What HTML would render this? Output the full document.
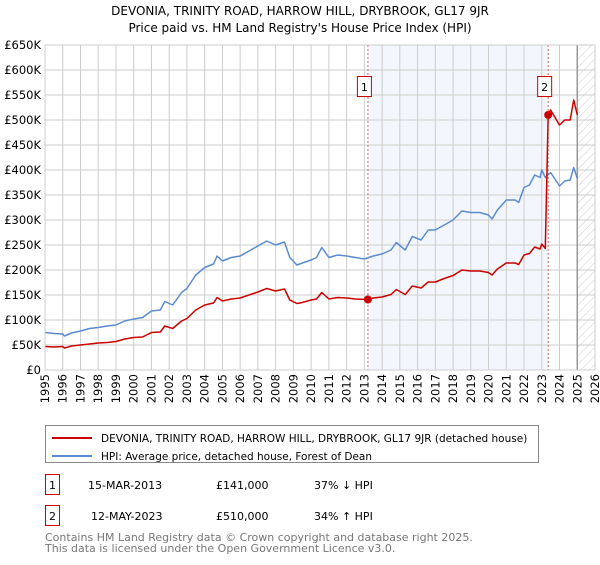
<!DOCTYPE html>
<html><head><meta charset="utf-8"><style>
body{margin:0;background:#fff;font-family:"Liberation Sans","DejaVu Sans",sans-serif;}
svg text{font-family:"DejaVu Sans","Liberation Sans",sans-serif;}
</style></head><body>
<svg id="chart" width="600" height="560" viewBox="0 0 600 560" xmlns="http://www.w3.org/2000/svg">
<text x="300" y="15" text-anchor="middle" font-size="12">DEVONIA, TRINITY ROAD, HARROW HILL, DRYBROOK, GL17 9JR</text>
<text x="300" y="32" text-anchor="middle" font-size="12">Price paid vs. HM Land Registry's House Price Index (HPI)</text>
<defs><pattern id="hatch" width="6" height="6" patternUnits="userSpaceOnUse" patternTransform="rotate(45)"><line x1="0" y1="0" x2="0" y2="6" stroke="#ccc" stroke-width="1"/></pattern></defs>
<g id="plot"></g>
<g>
<rect x="45.5" y="425.5" width="493" height="37" fill="#fff" stroke="#888"/>
<line x1="52" y1="438" x2="92" y2="438" stroke="#cc0000" stroke-width="2"/>
<text x="101" y="442" font-size="10.5">DEVONIA, TRINITY ROAD, HARROW HILL, DRYBROOK, GL17 9JR (detached house)</text>
<line x1="52" y1="456" x2="92" y2="456" stroke="#5b8bd0" stroke-width="2"/>
<text x="101" y="460" font-size="10.5">HPI: Average price, detached house, Forest of Dean</text>
</g>
<g>
<rect x="45.5" y="474.5" width="14" height="20" fill="#fff" stroke="#cc0000"/>
<text x="52.5" y="489" font-size="11" text-anchor="middle">1</text>
<text x="88" y="489" font-size="11">15-MAR-2013</text>
<text x="216" y="489" font-size="11">£141,000</text>
<text x="314" y="489" font-size="11">37% ↓ HPI</text>
<rect x="45.5" y="505.5" width="14" height="20" fill="#fff" stroke="#cc0000"/>
<text x="52.5" y="520" font-size="11" text-anchor="middle">2</text>
<text x="91" y="520" font-size="11">12-MAY-2023</text>
<text x="216" y="520" font-size="11">£510,000</text>
<text x="314" y="520" font-size="11">34% ↑ HPI</text>
</g>
<text x="45" y="541" font-size="11" fill="#777">Contains HM Land Registry data © Crown copyright and database right 2025.</text>
<text x="45" y="552" font-size="11" fill="#777">This data is licensed under the Open Government Licence v3.0.</text>
</svg>
<script>
const hpiYears=[1995,1995.5,1996,1996.1,1996.5,1997,1997.5,1998,1998.5,1999,1999.5,2000,2000.5,2001,2001.5,2001.75,2002.2,2002.7,2003,2003.5,2004,2004.5,2004.7,2005,2005.5,2006,2006.5,2007,2007.5,2008,2008.5,2008.8,2009.2,2009.5,2010,2010.3,2010.6,2011,2011.5,2012,2012.5,2013,2013.5,2014,2014.5,2014.8,2015.3,2015.7,2016.2,2016.6,2017,2017.5,2018,2018.5,2019,2019.5,2020,2020.2,2020.5,2021,2021.5,2021.7,2022,2022.3,2022.6,2022.9,2023,2023.2,2023.5,2024,2024.3,2024.6,2024.8,2025];
const hpiValues=[75,73,72,68,74,78,83,85,88,90,98,102,105,118,120,137,130,155,163,190,205,212,228,218,225,228,238,248,258,250,256,225,210,214,220,225,245,225,230,228,225,222,228,232,240,255,240,267,260,280,280,290,300,318,315,315,310,302,320,340,340,335,365,370,390,385,400,385,395,368,378,380,405,383];
const ppYears=[1995,1995.5,1996,1996.1,1996.5,1997,1997.5,1998,1998.5,1999,1999.5,2000,2000.5,2001,2001.5,2001.75,2002.2,2002.7,2003,2003.5,2004,2004.5,2004.7,2005,2005.5,2006,2006.5,2007,2007.5,2008,2008.5,2008.8,2009.2,2009.5,2010,2010.3,2010.6,2011,2011.5,2012,2012.5,2013.2,2013.5,2014,2014.5,2014.8,2015.3,2015.7,2016.2,2016.6,2017,2017.5,2018,2018.5,2019,2019.5,2020,2020.2,2020.5,2021,2021.5,2021.7,2022,2022.3,2022.6,2022.9,2023,2023.2,2023.36,2023.5,2024,2024.3,2024.6,2024.8,2025];
const ppValues=[47,46,47,44,48,50,52,54,55,57,62,65,66,75,76,88,83,98,103,120,130,134,145,138,142,144,150,156,163,158,162,140,133,135,140,142,155,142,145,144,142,141,144,146,151,161,151,168,164,176,176,183,189,200,198,198,195,190,202,214,214,211,230,233,246,242,252,243,512,520,490,500,500,540,510];
const sales=[{label:"1",year:2013.2,value:141},{label:"2",year:2023.36,value:510}];
const yTicks=[0,50,100,150,200,250,300,350,400,450,500,550,600,650];
const xTicks=[1995,1996,1997,1998,1999,2000,2001,2002,2003,2004,2005,2006,2007,2008,2009,2010,2011,2012,2013,2014,2015,2016,2017,2018,2019,2020,2021,2022,2023,2024,2025,2026];
const X0=45,X1=595,Y0=370,Y1=45;
const xs=y=>X0+(y-1995)/(2026-1995)*(X1-X0);
const ys=v=>Y0-v/650*(Y0-Y1);
const NS="http://www.w3.org/2000/svg";
const g=document.getElementById('plot');
function mk(t,a){const e=document.createElementNS(NS,t);for(const k in a)e.setAttribute(k,a[k]);g.appendChild(e);return e;}
let e=mk('rect',{x:xs(sales[0].year),y:Y1,width:xs(sales[1].year)-xs(sales[0].year),height:Y0-Y1,fill:'#eef3fc',opacity:0.7});


e=mk('rect',{x:xs(2025),y:Y1,width:X1-xs(2025),height:Y0-Y1,fill:'url(#hatch)'});


yTicks.forEach(v=>{
 let l=mk('line',{x1:X0,x2:X1,y1:ys(v),y2:ys(v),stroke:'#ccc','stroke-width':1});
 
 
 let t=mk('text',{x:X0-4,y:ys(v)+4,'text-anchor':'end','font-size':11.5});
 t.textContent=v===0?'£0':'£'+v+'K';
 
 
});
xTicks.forEach(y=>{
 let l=mk('line',{x1:xs(y),x2:xs(y),y1:Y1,y2:Y0,stroke:'#ccc','stroke-width':1});
 
 
 let t=mk('text',{x:0,y:0,'text-anchor':'end','font-size':11.5,transform:`translate(${xs(y)+4},374) rotate(-90)`});
 t.textContent=y;
 
 
});
e=mk('line',{x1:xs(2025),x2:xs(2025),y1:Y1,y2:Y0,stroke:'#999','stroke-width':1.5});


sales.forEach(s=>{
 let l=mk('line',{x1:xs(s.year),x2:xs(s.year),y1:Y1,y2:Y0,stroke:'#e06666','stroke-width':1,'stroke-dasharray':'2,2'});
 
 
});
function path(xa,va,col,name){
 const d=xa.map((x,i)=>(i?'L':'M')+xs(x).toFixed(1)+','+ys(va[i]).toFixed(1)).join('');
 const p=mk('path',{d:d,fill:'none',stroke:col,'stroke-width':1.5,'stroke-linejoin':'round'});
 
 
}
path(hpiYears,hpiValues,'#5b8bd0','hpi-line');
path(ppYears,ppValues,'#cc0000','property-price-line');
sales.forEach(s=>{
 let c=mk('circle',{cx:xs(s.year),cy:ys(s.value),r:4,fill:'#cc0000'});
 
 
 let r=mk('rect',{x:xs(s.year)-10.5,y:76.5,width:14,height:20,fill:'#fff',stroke:'#cc0000'});
 
 
 let t=mk('text',{x:xs(s.year)-3.5,y:91,'text-anchor':'middle','font-size':11});
 t.textContent=s.label;
 
 
});
e=mk('rect',{x:X0,y:Y1,width:X1-X0,height:Y0-Y1,fill:'none',stroke:'#ccc'});


</script>
</body></html>
